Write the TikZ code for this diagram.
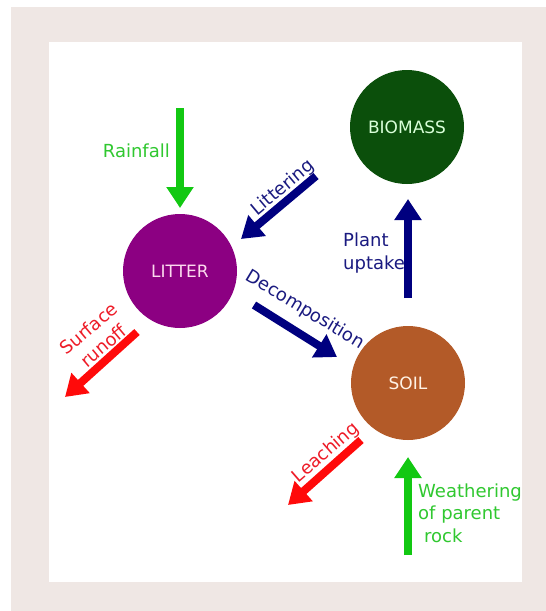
\documentclass[tikz,border=0pt]{standalone}
\usepackage{fontspec}
\setmainfont{DejaVu Sans}
\usetikzlibrary{arrows.meta}

\definecolor{framepink}{HTML}{EFE7E4}
\definecolor{biogreen}{HTML}{0B4F0B}
\definecolor{littpurple}{HTML}{8C0082}
\definecolor{soilbrown}{HTML}{B35A28}
\definecolor{flownavy}{HTML}{00007F}
\definecolor{flowgreen}{HTML}{12C812}
\definecolor{flowred}{HTML}{FF0A0A}
\definecolor{txtgreen}{HTML}{30C830}
\definecolor{txtnavy}{HTML}{1A1A80}
\definecolor{txtred}{HTML}{EE1C28}

\begin{document}
\begin{tikzpicture}[x=1pt,y=-1pt,
	pool/.style={circle,inner sep=0pt,minimum size=114pt,font=\fontsize{17}{20}\selectfont},
	flow/.style={line width=8pt,-{Triangle[length=21pt,width=26pt]}},
	lbl/.style={font=\fontsize{18}{22.5}\selectfont,inner sep=0pt}]
	\useasboundingbox (0,0) rectangle (546,611);
	%frame
	\fill[framepink] (11,7) rectangle (546,611);
	\fill[white] (49,42) rectangle (522,582);
	
	%pools
	\node[pool,fill=biogreen,text=green!15] (biomass) at (407,127) {BIOMASS};
	\node[pool,fill=littpurple,text=magenta!15] (litter) at (180,271) {LITTER};
	\node[pool,fill=soilbrown,text=orange!10] (soil) at (408,383) {SOIL};
	
	%arrow ends
	\coordinate (rain-a) at (180,108);	\coordinate (rain-b) at (180,208);
	\coordinate (litt-a) at (316,176);	\coordinate (litt-b) at (241,239);
	\coordinate (upt-a) at (408,298);	\coordinate (upt-b) at (408,199);
	\coordinate (dec-a) at (254,305);	\coordinate (dec-b) at (337,357);
	\coordinate (run-a) at (137,332);	\coordinate (run-b) at (65,397);
	\coordinate (lea-a) at (361,440);	\coordinate (lea-b) at (288,505);
	\coordinate (wea-a) at (408,555);	\coordinate (wea-b) at (408,457);
	
	%main arrows
	\draw[flow,flowgreen] (rain-a) -- (rain-b);
	\draw[flow,flownavy] (litt-a) -- (litt-b);
	\draw[flow,flownavy] (upt-a) -- (upt-b);
	\draw[flow,flownavy] (dec-a) -- (dec-b);
	\draw[flow,flowred] (run-a) -- (run-b);
	\draw[flow,flowred] (lea-a) -- (lea-b);
	\draw[flow,flowgreen] (wea-a) -- (wea-b);
	
	%labels
	\node[lbl,txtgreen,anchor=east] (rain-l) at (170,151) {Rainfall};
	\node[lbl,txtnavy,rotate=40] (litt-l) at (283,188) {Littering};
	\node[lbl,txtnavy,align=left,anchor=west] (upt-l) at (343,253) {Plant\\uptake};
	\node[lbl,txtnavy,rotate=-31] (dec-l) at (305,310) {Decomposition};
	\node[lbl,txtred,align=center,rotate=40] (run-l) at (96,337) {Surface\\runoff};
	\node[lbl,txtred,rotate=41] (lea-l) at (326,453) {Leaching};
	\node[lbl,txtgreen,align=left,anchor=west] (wea-l) at (418,513) {Weathering\\of parent\\\hspace*{6pt}rock};
\end{tikzpicture}
\end{document}
